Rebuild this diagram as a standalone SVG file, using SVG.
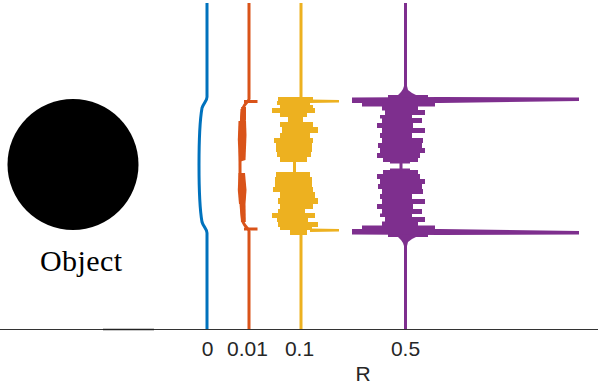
<svg xmlns="http://www.w3.org/2000/svg" xmlns:xlink="http://www.w3.org/1999/xlink" width="598" height="384" viewBox="0 0 598 384">
<style>
.tick{font-family:"Liberation Sans",Arial,sans-serif;font-size:21px;fill:#262626;text-anchor:middle}
.obj{font-family:"Liberation Serif","Times New Roman",serif;font-size:30px;fill:#000}
.ln{fill:none;stroke-width:3;stroke-linecap:butt}
</style>
<defs>
<g id="purpleUpper" fill="#7E2F8E">
<polygon points="404,86 407,86 408,90 412,93 416,95 398,95 401,92 403,89"/>
<rect x="388" y="95" width="40" height="3.5"/>
<polygon points="352,97.5 440,97 579,97.6 579,101 440,103 352,103"/>
<rect x="362" y="103" width="73" height="3.5"/>
<rect x="382" y="106" width="36" height="4.5"/>
<rect x="385" y="110" width="40" height="5"/>
<rect x="380" y="115" width="32" height="3.5"/>
<rect x="382" y="118" width="40" height="5"/>
<rect x="377" y="123" width="36" height="5"/>
<rect x="382" y="128" width="43" height="5"/>
<rect x="380" y="133" width="32" height="5"/>
<rect x="382" y="138" width="41" height="5"/>
<rect x="378" y="143" width="44" height="5"/>
<rect x="380" y="148" width="45" height="5"/>
<rect x="377" y="153" width="43" height="5"/>
<rect x="383" y="158" width="35" height="4"/>
<rect x="390" y="161.5" width="20" height="2"/>
</g>
</defs>

<g id="object">
<circle cx="73" cy="164.5" r="65.5" fill="#000"/>
<text class="obj" x="40" y="271" textLength="82" lengthAdjust="spacing">Object</text>
</g>

<g id="axis">
<line x1="0" y1="329.5" x2="598" y2="329.5" stroke="#333" stroke-width="1.2"/>
<line x1="103" y1="329.5" x2="154" y2="329.5" stroke="#222" stroke-width="1.4"/>
<text class="tick" x="207.5" y="356">0</text>
<text class="tick" x="247.5" y="356">0.01</text>
<text class="tick" x="299.5" y="356">0.1</text>
<text class="tick" x="405.5" y="356">0.5</text>
<text class="tick" x="363" y="381" font-size="22">R</text>
</g>

<g id="connectors">
<g id="series-0">
<path class="ln" stroke="#0072BD" d="M207,3 V97 C207,101 203.5,103 202,108 Q199,125 199,165 Q199,205 202,222 C203.5,227 207,229 207,233 V329"/>
</g>

<g id="series-001" fill="#D95319">
<path class="ln" stroke="#D95319" d="M249,3 V99 C249,101 245,103 243,108 Q240,125 240,165 Q240,205 243,222 C245,227 249,229 249,231 V329"/>
<path class="ln" stroke="#D95319" d="M244,101.5 H257.5 M244,229 H257.5"/>
<polygon points="241,107 246,107 246,120 245.5,120 245.5,121"/>
<polygon points="240.5,109 245.8,108 245.8,121 240,121"/>
<polygon points="238.5,121 246,121 246.5,135 245.5,160 239,162 237.8,140"/>
<polygon points="238.5,173 245,173 246.5,190 245.5,204 239,204 237.8,190"/>
<polygon points="240,204 245.5,204 245.8,222 241,222"/>
</g>

<g id="series-01" fill="#EDB120">
<path class="ln" stroke="#EDB120" d="M301,3 V99 M294.5,158 V175 M301,232 V329"/>
<rect x="278" y="97" width="35" height="4"/>
<polygon points="310,99.5 339,100 339,102.5 310,103"/>
<rect x="277" y="101" width="33" height="4"/>
<rect x="280" y="105" width="33" height="3.5"/>
<rect x="272" y="108" width="43" height="5"/>
<rect x="280" y="113" width="27" height="4"/>
<rect x="288" y="117" width="15" height="5"/>
<rect x="280" y="122" width="33" height="5"/>
<rect x="282" y="127" width="36" height="6"/>
<rect x="280" y="133" width="30" height="5"/>
<rect x="274" y="138" width="39" height="5"/>
<rect x="276" y="143" width="36" height="9"/>
<rect x="277" y="152" width="34" height="5"/>
<rect x="280" y="157" width="27" height="5"/>
<rect x="276" y="172" width="34" height="5"/>
<rect x="275" y="177" width="37" height="10"/>
<rect x="273" y="187" width="40" height="5"/>
<rect x="280" y="192" width="35" height="6"/>
<rect x="278" y="198" width="40" height="6"/>
<rect x="280" y="204" width="33" height="5"/>
<rect x="278" y="209" width="27" height="4"/>
<rect x="272" y="213" width="43" height="5"/>
<rect x="277" y="218" width="31" height="4"/>
<rect x="278" y="222" width="40" height="5"/>
<rect x="280" y="227" width="32" height="3"/>
<polygon points="310,228.5 339,229 339,231.5 310,232"/>
<rect x="290" y="230" width="17" height="5"/>
</g>

<g id="series-05" fill="#7E2F8E">
<path class="ln" stroke="#7E2F8E" d="M405.5,3 V92 M401,160 V172 M405.5,240 V329"/>
<use xlink:href="#purpleUpper"/>
<use xlink:href="#purpleUpper" transform="translate(0,332) scale(1,-1)"/>
</g>
</g>
</svg>
